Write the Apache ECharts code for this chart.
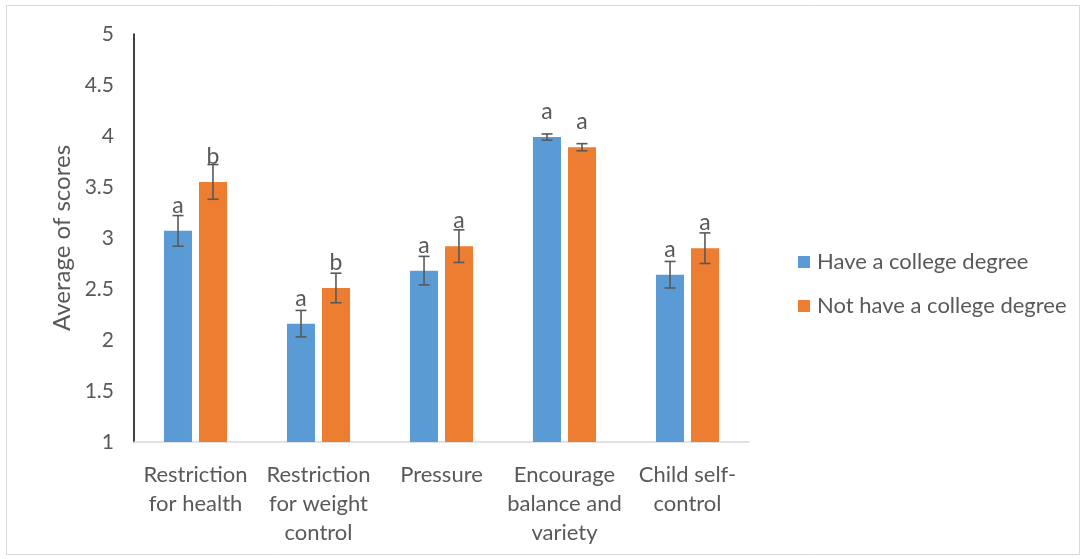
<!DOCTYPE html>
<html>
<head>
<meta charset="utf-8">
<script src="https://cdn.jsdelivr.net/npm/echarts@6/dist/echarts.min.js"></script>
<style>html,body{margin:0;padding:0;background:#fff}#c{width:1083px;height:559px}</style>
</head>
<body>
<div id="c"></div>
<script>
var categories = ['Restriction\nfor health', 'Restriction\nfor weight\ncontrol', 'Pressure', 'Encourage\nbalance and\nvariety', 'Child self-\ncontrol'];
var seriesNames = ['Have a college degree', 'Not have a college degree'];
var collegeValues = [3.07, 2.16, 2.68, 3.99, 2.64];
var collegeErrors = [0.15, 0.13, 0.14, 0.03, 0.13];
var collegeLetters = ['a', 'a', 'a', 'a', 'a'];
var noCollegeValues = [3.55, 2.51, 2.92, 3.89, 2.90];
var noCollegeErrors = [0.17, 0.145, 0.16, 0.035, 0.15];
var noCollegeLetters = ['b', 'b', 'a', 'a', 'a'];
var yTicks = [1, 1.5, 2, 2.5, 3, 3.5, 4, 4.5, 5];

var FONT = 'Lato, "Open Sans", sans-serif';
var TXT = '#595959';
var BAR_W = 0.228;   // fraction of band
var OFFSET = 0.142;  // center offset fraction of band

function errSeries(values, errors, letters, sign) {
  var data = values.map(function (v, i) { return [i, v, errors[i]]; });
  return {
    type: 'custom',
    z: 10,
    silent: true,
    data: data,
    renderItem: function (params, api) {
      var i = api.value(0), v = api.value(1), e = api.value(2);
      var band = api.size([1, 0])[0];
      var c = api.coord([i, v]);
      var x = c[0] + sign * OFFSET * band;
      var top = api.coord([i, v + e])[1];
      var bot = api.coord([i, v - e])[1];
      var cap = 5.5;
      var st = { stroke: '#595959', lineWidth: 1.6 };
      return {
        type: 'group',
        children: [
          { type: 'line', shape: { x1: x, y1: top, x2: x, y2: bot }, style: st },
          { type: 'line', shape: { x1: x - cap, y1: top, x2: x + cap, y2: top }, style: st },
          { type: 'line', shape: { x1: x - cap, y1: bot, x2: x + cap, y2: bot }, style: st },
          { type: 'text', style: { text: letters[i], x: x, y: c[1] - 14, align: 'center', verticalAlign: 'bottom', fill: TXT, font: '23px ' + FONT } }
        ]
      };
    }
  };
}

var chart = echarts.init(document.getElementById('c'), null, { renderer: 'canvas' });
chart.setOption({
  animation: false,
  backgroundColor: '#fff',
  graphic: [{ type: 'rect', shape: { x: 6.5, y: 5.5, width: 1073, height: 549 }, style: { fill: 'none', stroke: '#d9d9d9', lineWidth: 1 }, silent: true }],
  grid: { left: 134, right: 334, top: 34, bottom: 117 },
  legend: {
    orient: 'vertical',
    left: 793,
    top: 246,
    itemWidth: 12,
    itemHeight: 12,
    itemGap: 22,
    icon: 'rect',
    textStyle: { fontSize: 22, color: TXT, fontFamily: FONT, padding: [0, 0, 0, 2] },
    data: seriesNames
  },
  xAxis: {
    type: 'category',
    data: categories,
    axisLine: { lineStyle: { color: '#d9d9d9', width: 1.5 } },
    axisTick: { show: false },
    axisLabel: { fontSize: 22, color: TXT, fontFamily: FONT, lineHeight: 29, margin: 18, interval: 0 }
  },
  yAxis: {
    type: 'value',
    min: 1, max: 5, interval: 0.5,
    name: 'Average of scores',
    nameLocation: 'middle',
    nameGap: 60,
    nameTextStyle: { fontSize: 24, color: TXT, fontFamily: FONT },
    axisLine: { show: true, lineStyle: { color: '#000', width: 1.5 } },
    axisTick: { show: false },
    splitLine: { show: false },
    axisLabel: { fontSize: 21, color: TXT, fontFamily: FONT, margin: 20, formatter: function (v) { return yTicks.indexOf(v) >= 0 ? String(v) : ''; } }
  },
  series: [
    { name: seriesNames[0], type: 'bar', data: collegeValues, barWidth: (BAR_W * 100) + '%', barGap: '25%', itemStyle: { color: '#5B9BD5' } },
    { name: seriesNames[1], type: 'bar', data: noCollegeValues, barWidth: (BAR_W * 100) + '%', itemStyle: { color: '#ED7D31' } },
    errSeries(collegeValues, collegeErrors, collegeLetters, -1),
    errSeries(noCollegeValues, noCollegeErrors, noCollegeLetters, 1)
  ]
});
</script>
</body>
</html>
